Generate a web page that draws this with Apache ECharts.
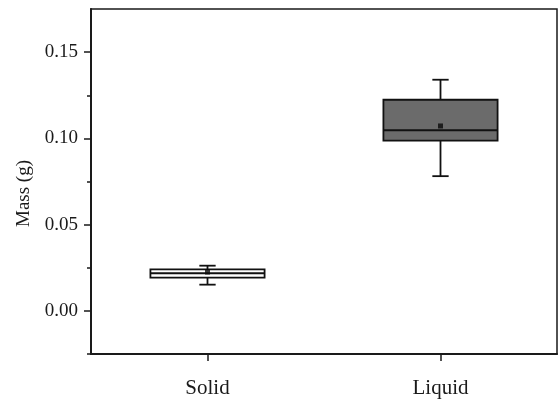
<!DOCTYPE html>
<html>
<head>
<meta charset="utf-8">
<script src="https://cdn.jsdelivr.net/npm/echarts@6/dist/echarts.min.js"></script>
<style>html,body{margin:0;padding:0;background:#fff;}#c{width:559px;height:400px;}</style>
</head>
<body>
<div id="c"></div>
<script>
const categories = ['Solid', 'Liquid'];
// [min, Q1, median, Q3, max]
const solidBox = [0.0152, 0.0193, 0.0218, 0.0241, 0.0262];
const liquidBox = [0.0781, 0.0987, 0.1047, 0.1224, 0.1340];
const means = [0.0225, 0.1072];
const majorTicks = [0, 0.05, 0.10, 0.15];
const minorTicks = [-0.025, 0.025, 0.075, 0.125];
const yMin = -0.025, yMax = 0.175;

const boxFills = ['#ffffff', '#6b6b6b'];
const FONT = 'Liberation Serif';
const INK = '#1a1a1a';

const boxData = [solidBox, liquidBox].map((b, i) => [i].concat(b));
const meanData = means.map((m, i) => [i, m]);

const chart = echarts.init(document.getElementById('c'), null, {renderer: 'canvas'});
chart.setOption({
  animation: false,
  backgroundColor: '#fff',
  grid: {left: 91, right: 2, top: 9, bottom: 46, show: true, borderColor: INK, borderWidth: 1.5, backgroundColor: 'transparent'},
  xAxis: {
    type: 'category', data: categories, boundaryGap: true,
    axisLine: {onZero: false, lineStyle: {color: INK, width: 2}},
    axisTick: {show: true, alignWithLabel: true, length: 7, lineStyle: {color: INK, width: 1.5}},
    axisLabel: {fontFamily: FONT, fontSize: 21, color: INK, margin: 24},
    splitLine: {show: false}
  },
  yAxis: [{
    type: 'value', min: yMin, max: yMax,
    name: 'Mass (g)', nameLocation: 'middle', nameGap: 53,
    nameTextStyle: {fontFamily: FONT, fontSize: 19, color: INK, padding: [0, 24, 0, 0]},
    axisLine: {show: true, lineStyle: {color: INK, width: 2}},
    axisTick: {show: true, customValues: majorTicks, length: 7, lineStyle: {color: INK, width: 1.5}},
    axisLabel: {customValues: majorTicks, fontFamily: FONT, fontSize: 19, color: INK, margin: 13,
      formatter: v => v.toFixed(2)},
    splitLine: {show: false}
  }, {
    type: 'value', min: yMin, max: yMax, position: 'left',
    axisLine: {show: false},
    axisTick: {show: true, customValues: minorTicks, length: 4, lineStyle: {color: INK, width: 1.5}},
    axisLabel: {show: false},
    splitLine: {show: false}
  }],
  series: [{
    type: 'custom',
    data: boxData,
    encode: {x: 0, y: [1, 2, 3, 4, 5]},
    renderItem: function (params, api) {
      const x = api.value(0);
      const pMin = api.coord([x, api.value(1)]);
      const pQ1 = api.coord([x, api.value(2)]);
      const pMed = api.coord([x, api.value(3)]);
      const pQ3 = api.coord([x, api.value(4)]);
      const pMax = api.coord([x, api.value(5)]);
      const band = api.size([1, 0])[0];
      const half = band * 0.245;
      const cap = band * 0.035;
      const cx = pMed[0];
      const ls = {stroke: '#111', lineWidth: 1.8};
      return {
        type: 'group',
        children: [
          {type: 'line', shape: {x1: cx, y1: pMax[1], x2: cx, y2: pQ3[1]}, style: ls},
          {type: 'line', shape: {x1: cx, y1: pQ1[1], x2: cx, y2: pMin[1]}, style: ls},
          {type: 'line', shape: {x1: cx - cap, y1: pMax[1], x2: cx + cap, y2: pMax[1]}, style: ls},
          {type: 'line', shape: {x1: cx - cap, y1: pMin[1], x2: cx + cap, y2: pMin[1]}, style: ls},
          {type: 'rect', shape: {x: cx - half, y: pQ3[1], width: half * 2, height: pQ1[1] - pQ3[1]},
            style: {fill: boxFills[params.dataIndex], stroke: '#111', lineWidth: 1.8}},
          {type: 'line', shape: {x1: cx - half, y1: pMed[1], x2: cx + half, y2: pMed[1]}, style: ls}
        ]
      };
    },
    z: 2
  }, {
    type: 'scatter',
    data: meanData,
    symbol: 'rect',
    symbolSize: 5,
    itemStyle: {color: '#0a0a0a'},
    z: 3
  }]
});
</script>
</body>
</html>
